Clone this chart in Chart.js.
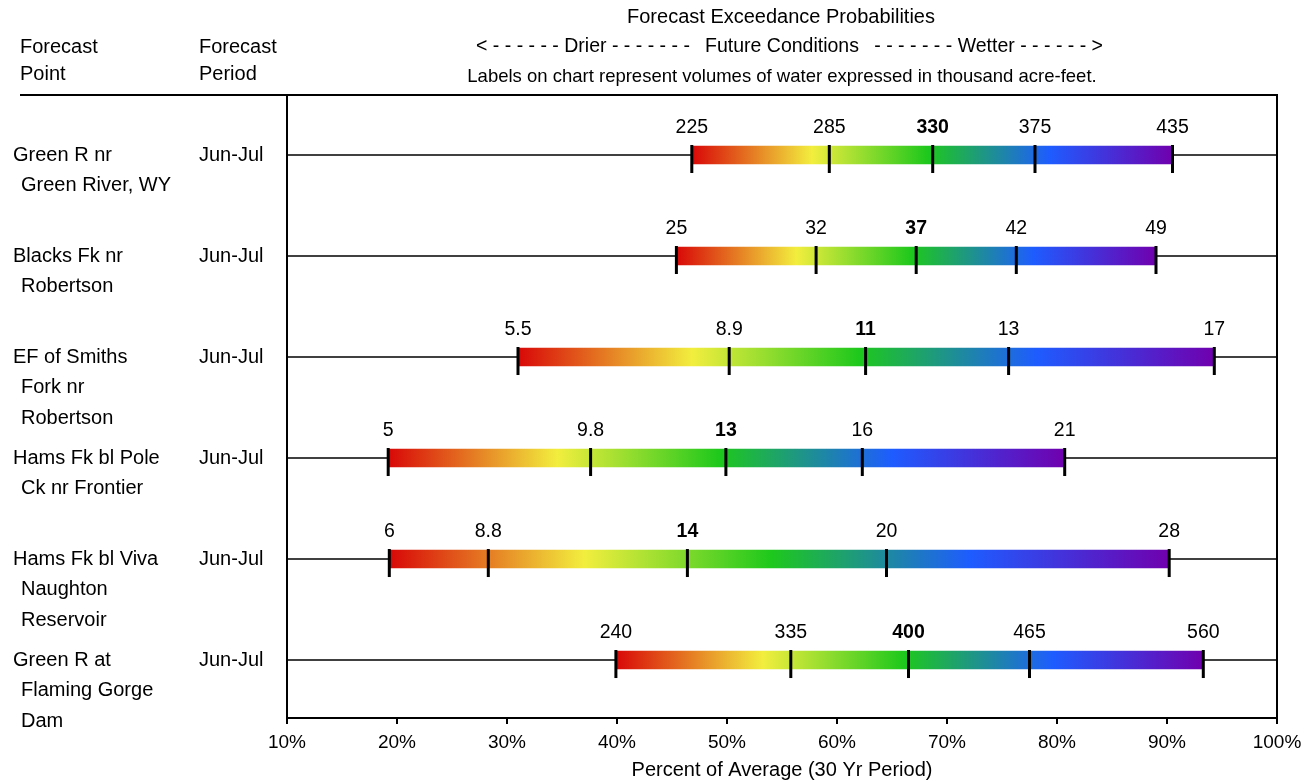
<!DOCTYPE html>
<html>
<head>
<meta charset="utf-8">
<script src="https://cdn.jsdelivr.net/npm/chart.js@4.4.0/dist/chart.umd.min.js"></script>
<style>
  html, body { margin: 0; padding: 0; background: #fff; }
</style>
</head>
<body>
<canvas id="chart" width="1310" height="782"></canvas>
<script>
// forecast points (one entry per row, lines as they wrap)
const pointNames = [
  ["Green R nr", "Green River, WY"],
  ["Blacks Fk nr", "Robertson"],
  ["EF of Smiths", "Fork nr", "Robertson"],
  ["Hams Fk bl Pole", "Ck nr Frontier"],
  ["Hams Fk bl Viva", "Naughton", "Reservoir"],
  ["Green R at", "Flaming Gorge", "Dam"]
];
const periods = ["Jun-Jul", "Jun-Jul", "Jun-Jul", "Jun-Jul", "Jun-Jul", "Jun-Jul"];

// percent of average for each exceedance probability
const pct90 = [46.8, 45.4, 31.0, 19.2, 19.3, 39.9];
const pct70 = [59.3, 58.1, 50.2, 37.6, 28.3, 55.8];
const pct50 = [68.7, 67.2, 62.6, 49.9, 46.4, 66.5];
const pct30 = [78.0, 76.3, 75.6, 62.3, 64.5, 77.5];
const pct10 = [90.5, 89.0, 94.3, 80.7, 90.2, 93.3];

// volumes (thousand acre-feet) shown above the ticks
const vol90 = ["225", "25", "5.5", "5", "6", "240"];
const vol70 = ["285", "32", "8.9", "9.8", "8.8", "335"];
const vol50 = ["330", "37", "11", "13", "14", "400"];
const vol30 = ["375", "42", "13", "16", "20", "465"];
const vol10 = ["435", "49", "17", "21", "28", "560"];

const xTicks = [10, 20, 30, 40, 50, 60, 70, 80, 90, 100];

const FONT = '"Liberation Sans", Arial, Helvetica, sans-serif';
Chart.defaults.font.family = FONT;
Chart.defaults.color = '#000';

const rowIdx = pointNames.map((_, i) => i);
const pctRows = [pct90, pct70, pct50, pct30, pct10];
const volRows = [vol90, vol70, vol50, vol30, vol10];

const gradStops = [
  [0, '#d80808'],
  [0.25, '#f2ee3e'],
  [0.49, '#1ec81c'],
  [0.745, '#1e5cff'],
  [1, '#7000ae']
];

function barGradient(c) {
  const chart = c.chart;
  const xs = chart.scales.x;
  if (!xs || c.dataIndex === undefined || !chart.chartArea) return '#888';
  const i = c.dataIndex;
  const x0 = xs.getPixelForValue(pct90[i]);
  const x1 = xs.getPixelForValue(pct10[i]);
  const g = chart.ctx.createLinearGradient(x0, 0, x1, 0);
  gradStops.forEach(s => g.addColorStop(s[0], s[1]));
  return g;
}

const decor = {
  id: 'decor',
  beforeDatasetsDraw(chart) {
    const { ctx, chartArea: a, scales: { y } } = chart;
    ctx.save();
    ctx.strokeStyle = '#000';
    ctx.lineWidth = 1.5;
    rowIdx.forEach(i => {
      const py = y.getPixelForValue(i);
      ctx.beginPath();
      ctx.moveTo(a.left, py);
      ctx.lineTo(a.right, py);
      ctx.stroke();
    });
    ctx.restore();
  },
  afterDatasetsDraw(chart) {
    const { ctx, scales: { x, y } } = chart;
    ctx.save();
    ctx.fillStyle = '#000';
    ctx.textAlign = 'center';
    ctx.textBaseline = 'middle';
    rowIdx.forEach(i => {
      const py = y.getPixelForValue(i);
      pctRows.forEach((arr, k) => {
        const px = x.getPixelForValue(arr[i]);
        ctx.fillRect(px - 1.5, py - 10, 3, 28);
        ctx.font = (k === 2 ? 'bold ' : '') + '19.5px ' + FONT;
        ctx.fillText(volRows[k][i], px, py - 27);
      });
    });
    ctx.restore();
  },
  afterDraw(chart) {
    const { ctx, chartArea: a, scales: { y } } = chart;
    ctx.save();
    ctx.strokeStyle = '#000';
    ctx.lineWidth = 2;
    // top rule and right frame
    ctx.beginPath();
    ctx.moveTo(20, a.top);
    ctx.lineTo(a.right, a.top);
    ctx.lineTo(a.right, a.bottom);
    ctx.stroke();

    ctx.fillStyle = '#000';
    ctx.textBaseline = 'middle';
    ctx.font = '20px ' + FONT;
    ctx.textAlign = 'left';
    ctx.fillText('Forecast', 20, 47);
    ctx.fillText('Point', 20, 74);
    ctx.fillText('Forecast', 199, 47);
    ctx.fillText('Period', 199, 74);

    ctx.textAlign = 'center';
    ctx.fillText('Forecast Exceedance Probabilities', 781, 17);
    ctx.font = '19.5px ' + FONT;
    ctx.textAlign = 'left';
    ctx.fillText('< - - - - - - Drier - - - - - - -', 476, 47);
    ctx.textAlign = 'center';
    ctx.fillText('Future Conditions', 782, 47);
    ctx.textAlign = 'right';
    ctx.fillText('- - - - - - - Wetter - - - - - - >', 1103, 47);
    ctx.textAlign = 'center';
    ctx.font = '18.5px ' + FONT;
    ctx.fillText('Labels on chart represent volumes of water expressed in thousand acre-feet.', 782, 77);

    // row labels
    ctx.font = '20px ' + FONT;
    ctx.textAlign = 'left';
    rowIdx.forEach(i => {
      const py = y.getPixelForValue(i);
      pointNames[i].forEach((line, j) => {
        ctx.fillText(line, j === 0 ? 13 : 21, py + j * 30.5);
      });
      ctx.fillText(periods[i], 199, py);
    });
    ctx.restore();
  }
};

new Chart(document.getElementById('chart'), {
  type: 'bar',
  data: {
    datasets: [{
      data: rowIdx.map(i => ({ x: [pct90[i], pct10[i]], y: i })),
      backgroundColor: barGradient,
      borderWidth: 0,
      barThickness: 18
    }]
  },
  options: {
    indexAxis: 'y',
    responsive: false,
    animation: false,
    layout: { padding: { top: 95, right: 33, bottom: 0, left: 0 } },
    plugins: { legend: { display: false }, tooltip: { enabled: false } },
    scales: {
      x: {
        type: 'linear',
        min: 10,
        max: 100,
        afterBuildTicks: s => { s.ticks = xTicks.map(v => ({ value: v })); },
        afterFit: s => { s.height = 64; },
        ticks: { callback: v => v + '%', font: { size: 19 }, color: '#000', padding: 7, maxRotation: 0 },
        grid: { display: true, drawOnChartArea: false, drawTicks: true, tickLength: 6, color: '#000', lineWidth: 2 },
        border: { display: true, color: '#000', width: 2 },
        title: { display: true, text: 'Percent of Average (30 Yr Period)', font: { size: 20 }, color: '#000', padding: { top: 0, bottom: 0 } }
      },
      y: {
        type: 'linear',
        min: -0.594,
        max: 5.574,
        reverse: true,
        offset: false,
        afterFit: s => { s.width = 287; },
        ticks: { display: false },
        grid: { display: false, offset: false },
        border: { display: true, color: '#000', width: 2 }
      }
    }
  },
  plugins: [decor]
});
</script>
</body>
</html>
